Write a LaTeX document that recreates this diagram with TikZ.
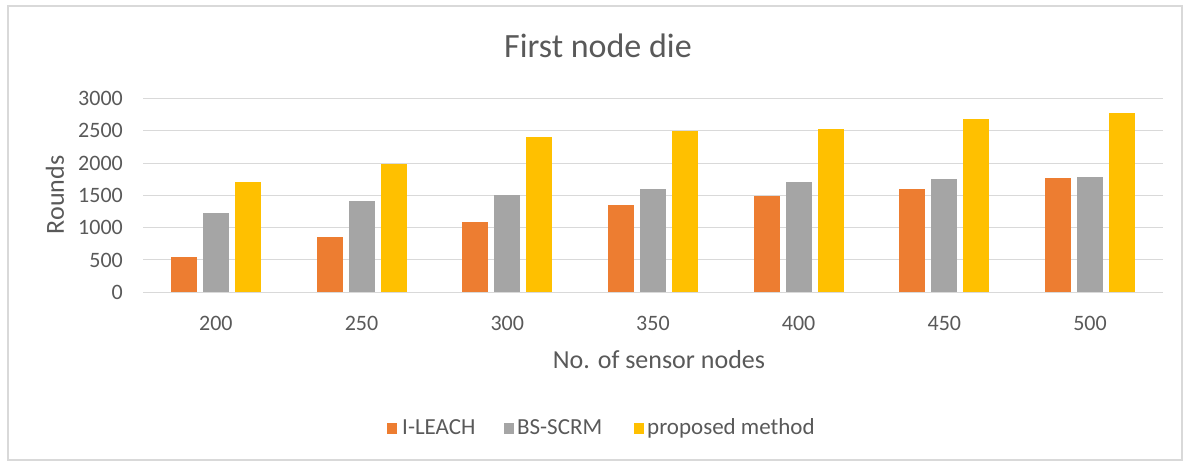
\documentclass[tikz,border=0pt]{standalone}
\usepackage{fontspec}
\setmainfont{Carlito}
\usepackage{tikz}
\definecolor{ileach}{HTML}{ED7D31}
\definecolor{bsscrm}{HTML}{A5A5A5}
\definecolor{propmeth}{HTML}{FFC000}
\definecolor{txtgray}{HTML}{595959}
\definecolor{gridgray}{HTML}{D9D9D9}

\begin{document}
\begin{tikzpicture}[x=1pt,y=1pt,
	ticklabel/.style={text=txtgray,inner sep=0pt,font=\fontsize{22}{26}\selectfont},
	axislabel/.style={text=txtgray,inner sep=0pt,font=\fontsize{26}{31}\selectfont},
	legendbox/.style={minimum size=10.5pt,inner sep=0pt},
	legendlabel/.style={text=txtgray,inner sep=0pt,anchor=base west,font=\fontsize{23}{27}\selectfont}]
		\useasboundingbox (0,0) rectangle (1186,462);
		% Chart frame
		\draw [gridgray,line width=1.2pt] (8,2) rectangle (1182,456);
		\node [text=txtgray,inner sep=0pt,anchor=base,font=\fontsize{34}{40}\selectfont] (title) at (598,404) {First node die};
		% Grid lines and Y labels
		\foreach \v in {0,500,...,3000} {
			\draw [gridgray,line width=1pt] (143,{169.7+\v*0.0646}) -- (1163,{169.7+\v*0.0646});
			\node [ticklabel,anchor=east] (yl\v) at (123,{169.7+\v*0.0646}) {\v};
		}
		% Bars: nodes / I-LEACH / BS-SCRM / proposed method
		\foreach \n/\a/\b/\c [count=\i from 0] in {200/550/1230/1700, 250/850/1410/1990, 300/1090/1500/2400, 350/1350/1600/2500, 400/1490/1700/2520, 450/1600/1750/2680, 500/1770/1790/2780} {
			\pgfmathsetmacro\cx{143+145.7*(\i+0.5)}
			\fill [ileach] (\cx-45,169.7) rectangle (\cx-19,{169.7+\a*0.0646});
			\fill [bsscrm] (\cx-13,169.7) rectangle (\cx+13,{169.7+\b*0.0646});
			\fill [propmeth] (\cx+19,169.7) rectangle (\cx+45,{169.7+\c*0.0646});
			\node [ticklabel,anchor=base] (xl\n) at (\cx,131) {\n};
		}
		% Axis titles
		\node [axislabel,anchor=base] (xtitle) at (659,93) {No. of sensor nodes};
		\node [axislabel,rotate=90] (ytitle) at (55,267) {Rounds};
		% Legend
		\node [legendbox,fill=ileach] (keyileach) at (392,33.5) {};
		\node [legendlabel] (txtileach) at (402,27) {I-LEACH};
		\node [legendbox,fill=bsscrm] (keybsscrm) at (509,33.5) {};
		\node [legendlabel] (txtbsscrm) at (517,27) {BS-SCRM};
		\node [legendbox,fill=propmeth] (keypropmeth) at (639,33.5) {};
		\node [legendlabel] (txtpropmeth) at (647,27) {proposed method};
	\end{tikzpicture}
\end{document}
